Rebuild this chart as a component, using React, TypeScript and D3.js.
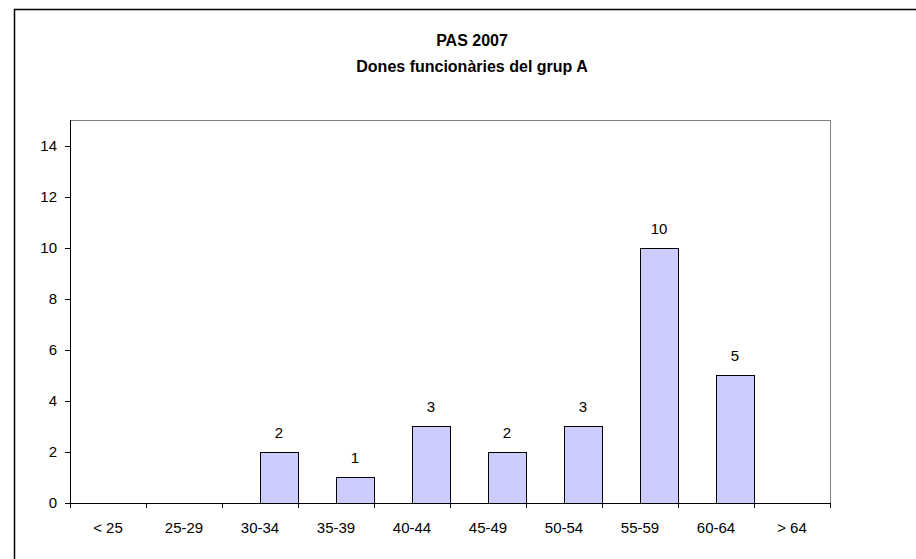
import * as d3 from 'd3';

const categories = ['< 25', '25-29', '30-34', '35-39', '40-44', '45-49', '50-54', '55-59', '60-64', '> 64'];
const values: (number | null)[] = [null, null, 2, 1, 3, 2, 3, 10, 5, null];
const yTicks = [0, 2, 4, 6, 8, 10, 12, 14];
const titleLines = ['PAS 2007', 'Dones funcionàries del grup A'];

const W = 916;
const H = 559;
const plot = { left: 70, right: 830, top: 120, bottom: 503 };
const font = 'Arial, "Liberation Sans", sans-serif';

export default function App() {
  const x = d3.scaleBand<string>().domain(categories).range([plot.left, plot.right]);
  const y = d3.scaleLinear().domain([0, 15]).range([plot.bottom, plot.top]);
  const bw = x.bandwidth();

  return (
    <svg
      width={W}
      height={H}
      style={{ position: 'fixed', left: 0, top: 0, background: '#fff' }}
      fontFamily={font}
    >
      <rect x={0} y={0} width={W} height={H} fill="#fff" />
      {/* outer chart frame, right/bottom edges fall off the page */}
      <rect x={14.5} y={9.5} width={W + 40} height={H + 40} fill="none" stroke="#000" strokeWidth={1.5} />

      {/* title */}
      {titleLines.map((t, i) => (
        <text key={t} x={472} y={46 + i * 26} textAnchor="middle" fontSize={16} fontWeight="bold" fill="#000">
          {t}
        </text>
      ))}

      {/* plot frame */}
      <line x1={plot.left} x2={plot.right} y1={plot.top + 0.5} y2={plot.top + 0.5} stroke="#808080" />
      <line x1={plot.right + 0.5} x2={plot.right + 0.5} y1={plot.top} y2={plot.bottom} stroke="#808080" />

      {/* bars */}
      {categories.map((c, i) => {
        const v = values[i];
        if (v == null) return null;
        const bx = (x(c) ?? 0) + bw / 2;
        return (
          <g key={c}>
            <rect
              x={Math.round(bx) + 0.5}
              y={Math.round(y(v)) + 0.5}
              width={Math.round(bw / 2)}
              height={Math.round(y(0) - y(v))}
              fill="#CCCCFF"
              stroke="#000"
              strokeWidth={1}
            />
            <text x={bx + bw / 4} y={y(v) - 14} textAnchor="middle" fontSize={15} fill="#000">
              {v}
            </text>
          </g>
        );
      })}

      {/* y axis */}
      <line x1={plot.left + 0.5} x2={plot.left + 0.5} y1={plot.top} y2={plot.bottom + 1} stroke="#000" />
      {yTicks.map((t) => (
        <g key={t}>
          <line x1={plot.left - 5} x2={plot.left} y1={Math.round(y(t)) + 0.5} y2={Math.round(y(t)) + 0.5} stroke="#000" />
          <text x={57} y={y(t) + 5.3} textAnchor="end" fontSize={15} fill="#000">
            {t}
          </text>
        </g>
      ))}

      {/* x axis */}
      <line x1={plot.left} x2={plot.right + 1} y1={plot.bottom + 0.5} y2={plot.bottom + 0.5} stroke="#000" />
      {[...categories.map((c) => x(c) ?? 0), plot.right].map((tx, i) => (
        <line key={i} x1={Math.round(tx) + 0.5} x2={Math.round(tx) + 0.5} y1={plot.bottom} y2={plot.bottom + 5} stroke="#000" />
      ))}
      {categories.map((c) => (
        <text key={c} x={(x(c) ?? 0) + bw / 2} y={533} textAnchor="middle" fontSize={15} fill="#000">
          {c}
        </text>
      ))}
    </svg>
  );
}
